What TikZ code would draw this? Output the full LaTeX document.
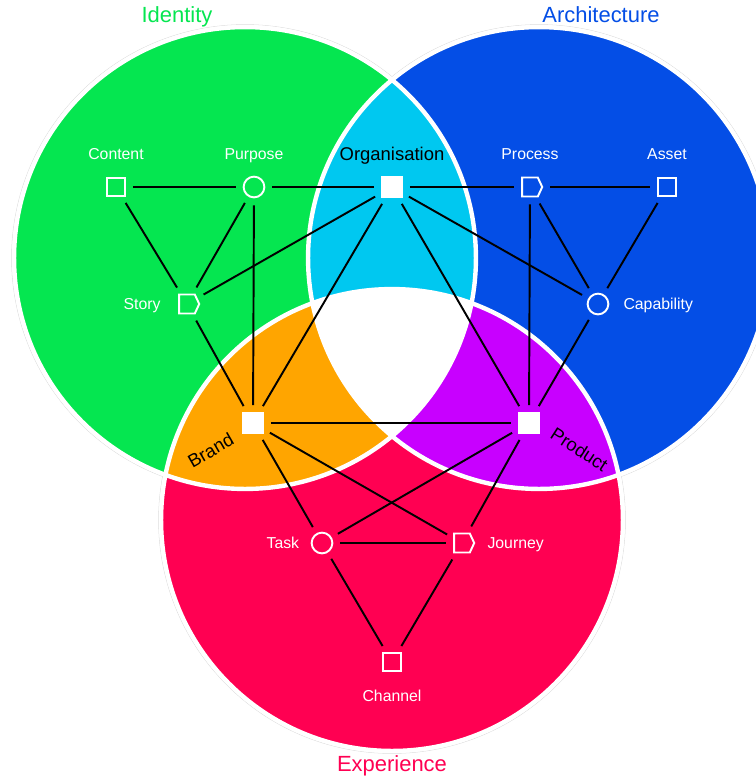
\documentclass[tikz,border=0pt]{standalone}
\usepackage{fontspec}
\setmainfont{Liberation Sans}
\usetikzlibrary{positioning,shapes.symbols}

\begin{document}
\begin{tikzpicture}[x=0.02cm, y=-0.02cm,
    link/.style={line width=1.1pt, shorten <=4pt, shorten >=4pt},
    sq/.style={draw=white, line width=1.1pt, minimum size=10.2pt, inner sep=0pt},
    hub/.style={sq, fill=white, minimum size=11.2pt},
    rnd/.style={circle, draw=white, line width=1.1pt, minimum size=11.8pt, inner sep=0pt},
    flag/.style={signal, signal to=east, signal pointer angle=130, draw=white,
        line width=1.1pt, minimum width=11.4pt, minimum height=10.8pt, inner sep=0pt},
    lbl/.style={text=white, font=\fontsize{9}{10}\selectfont, text height=1.5ex, text depth=.25ex},
    hubtext/.style={text=black, font=\fontsize{10.5}{12}\selectfont, text height=1.5ex, text depth=.25ex},
    title/.style={font=\fontsize{12.5}{14}\selectfont, text height=1.5ex, text depth=.25ex}]

    % Colors
    \definecolor{identity}{RGB}{5,230,80} % green
    \definecolor{architecture}{RGB}{4,78,230} % blue
    \definecolor{experience}{RGB}{255,0,82} % red
    \definecolor{idarch}{RGB}{0,200,240} % cyan
    \definecolor{idexp}{RGB}{255,165,0} % orange
    \definecolor{archexp}{RGB}{200,0,255} % purple

    \useasboundingbox (0,0) rectangle (756,779);

    % Circle centres
    \coordinate (I) at (245,258);
    \coordinate (A) at (539,258);
    \coordinate (E) at (392,520);
    \def\rad{4.62cm}

    % Faint outer rims
    \foreach \c in {I,A,E}
        \draw[black!15, line width=0.3pt] (\c) circle[radius=\rad+1.4pt];

    % The three sets
    \fill[identity] (I) circle[radius=\rad];
    \fill[architecture] (A) circle[radius=\rad];
    \fill[experience] (E) circle[radius=\rad];

    % Pairwise overlaps
    \begin{scope}
        \clip (I) circle[radius=\rad];
        \fill[idarch] (A) circle[radius=\rad];
        \fill[idexp] (E) circle[radius=\rad];
    \end{scope}
    \begin{scope}
        \clip (A) circle[radius=\rad];
        \fill[archexp] (E) circle[radius=\rad];
    \end{scope}

    % Centre overlap
    \begin{scope}
        \clip (I) circle[radius=\rad];
        \clip (A) circle[radius=\rad];
        \fill[white] (E) circle[radius=\rad];
    \end{scope}

    % White rims
    \foreach \c in {I,A,E}
        \draw[white, line width=2.5pt] (\c) circle[radius=\rad];

    % Titles
    \node[title, text=identity] (identity) at (177,17) {Identity};
    \node[title, text=architecture] (architecture) at (601,17) {Architecture};
    \node[title, text=experience] (experience) at (392,766) {Experience};

    % Identity
    \node[sq] (content) at (116,187) {};
    \node[rnd] (purpose) at (254,187) {};
    \node[flag] (story) at (187,304) {};

    % Architecture
    \node[flag] (process) at (530,187) {};
    \node[sq] (asset) at (667,187) {};
    \node[rnd] (capability) at (598,304) {};

    % Experience
    \node[rnd] (task) at (322,543) {};
    \node[flag] (journey) at (462,543) {};
    \node[sq] (channel) at (392,662) {};

    % Overlaps
    \node[hub] (organisation) at (392,187) {};
    \node[hub] (brand) at (253,423) {};
    \node[hub] (product) at (529,423) {};

    % Labels
    \node[lbl, above=11pt] (content-l) at (content) {Content};
    \node[lbl, above=11pt] (purpose-l) at (purpose) {Purpose};
    \node[lbl, left=11.5pt] (story-l) at (story) {Story};
    \node[lbl, above=11pt] (process-l) at (process) {Process};
    \node[lbl, above=11pt] (asset-l) at (asset) {Asset};
    \node[lbl, right=11pt] (capability-l) at (capability) {Capability};
    \node[lbl, left=9.5pt] (task-l) at (task) {Task};
    \node[lbl, right=11pt] (journey-l) at (journey) {Journey};
    \node[lbl, below=11pt] (channel-l) at (channel) {Channel};
    \node[hubtext, above=10pt] (organisation-l) at (organisation) {Organisation};
    \node[hubtext, rotate=30] (brand-l) at (211,451) {Brand};
    \node[hubtext, rotate=-33] (product-l) at (579,450) {Product};

    % Links
    \foreach \a/\b in {content/purpose, purpose/organisation, organisation/process, process/asset,
        content/story, purpose/story, purpose/brand, organisation/story, organisation/brand,
        organisation/product, organisation/capability, process/capability, process/product,
        asset/capability, capability/product, story/brand, brand/product,
        brand/task, brand/journey, product/task, product/journey,
        task/journey, task/channel, journey/channel}
        \draw[link] (\a) -- (\b);

\end{tikzpicture}
\end{document}
